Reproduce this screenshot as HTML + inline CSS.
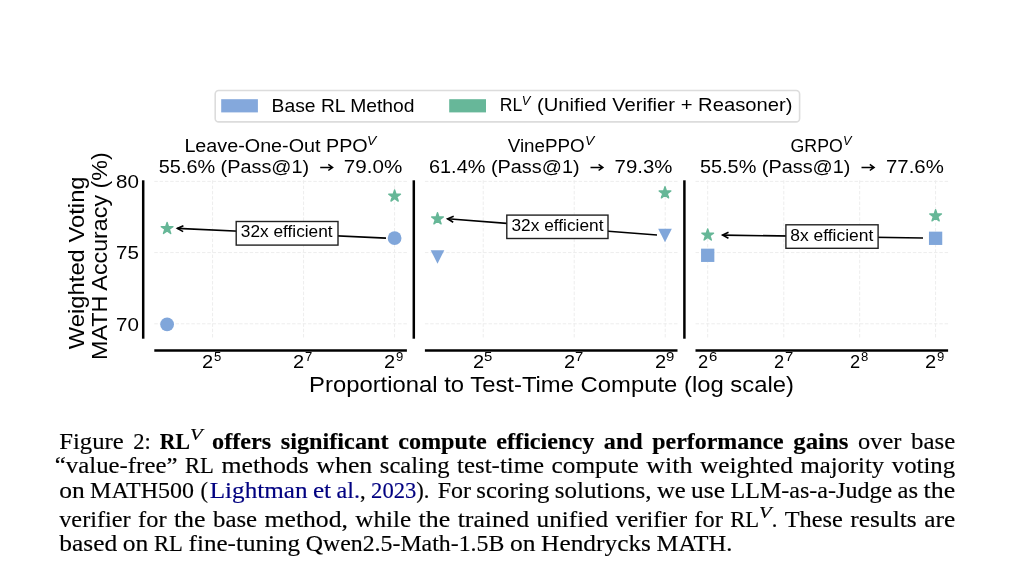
<!DOCTYPE html>
<html><head><meta charset="utf-8"><style>
html,body{margin:0;padding:0;background:#fff;width:1024px;height:586px;overflow:hidden}
svg{position:absolute;left:0;top:0;display:block;will-change:transform}
</style></head><body>
<svg width="1024" height="586" viewBox="0 0 1024 586">
<rect width="1024" height="586" fill="#fff"/>
<rect x="215.2" y="90.5" width="584.4" height="31.4" rx="3.5" ry="3.5" fill="#fff" stroke="#dcdcdc" stroke-width="1.6"/>
<rect x="221.2" y="99.2" width="36.7" height="13.2" fill="#84a8dc"/>
<rect x="449.2" y="99.2" width="36.8" height="13.2" fill="#67b799"/>
<text x="271.60" y="111.6" font-size="18.1" textLength="142.90" lengthAdjust="spacingAndGlyphs"  style="font-family:'Liberation Sans', sans-serif">Base RL Method</text>
<text x="499.80" y="111.4" font-size="18.1" textLength="22.50" lengthAdjust="spacingAndGlyphs"  style="font-family:'Liberation Sans', sans-serif">RL</text>
<text x="521.70" y="104.6" font-size="12.6" textLength="8.60" lengthAdjust="spacingAndGlyphs" font-style="italic" style="font-family:'Liberation Sans', sans-serif">V</text>
<text x="537.00" y="111.4" font-size="18.1" textLength="255.40" lengthAdjust="spacingAndGlyphs"  style="font-family:'Liberation Sans', sans-serif">(Unified Verifier + Reasoner)</text>
<line x1="154.3" y1="181.40" x2="406.9" y2="181.40" stroke="#ededed" stroke-width="1" stroke-dasharray="3.5 1.8"/>
<line x1="154.3" y1="252.60" x2="406.9" y2="252.60" stroke="#ededed" stroke-width="1" stroke-dasharray="3.5 1.8"/>
<line x1="154.3" y1="323.80" x2="406.9" y2="323.80" stroke="#ededed" stroke-width="1" stroke-dasharray="3.5 1.8"/>
<line x1="143.20000000000002" y1="180.3" x2="143.20000000000002" y2="338.7" stroke="#000" stroke-width="2.5"/>
<line x1="154.3" y1="350.5" x2="406.9" y2="350.5" stroke="#000" stroke-width="2.5"/>
<line x1="424.9" y1="181.40" x2="677.5" y2="181.40" stroke="#ededed" stroke-width="1" stroke-dasharray="3.5 1.8"/>
<line x1="424.9" y1="252.60" x2="677.5" y2="252.60" stroke="#ededed" stroke-width="1" stroke-dasharray="3.5 1.8"/>
<line x1="424.9" y1="323.80" x2="677.5" y2="323.80" stroke="#ededed" stroke-width="1" stroke-dasharray="3.5 1.8"/>
<line x1="413.79999999999995" y1="180.3" x2="413.79999999999995" y2="338.7" stroke="#000" stroke-width="2.5"/>
<line x1="424.9" y1="350.5" x2="677.5" y2="350.5" stroke="#000" stroke-width="2.5"/>
<line x1="695.5" y1="181.40" x2="948.1" y2="181.40" stroke="#ededed" stroke-width="1" stroke-dasharray="3.5 1.8"/>
<line x1="695.5" y1="252.60" x2="948.1" y2="252.60" stroke="#ededed" stroke-width="1" stroke-dasharray="3.5 1.8"/>
<line x1="695.5" y1="323.80" x2="948.1" y2="323.80" stroke="#ededed" stroke-width="1" stroke-dasharray="3.5 1.8"/>
<line x1="684.4" y1="180.3" x2="684.4" y2="338.7" stroke="#000" stroke-width="2.5"/>
<line x1="695.5" y1="350.5" x2="948.1" y2="350.5" stroke="#000" stroke-width="2.5"/>
<line x1="212.6" y1="180.3" x2="212.6" y2="338.7" stroke="#ededed" stroke-width="1" stroke-dasharray="3.5 1.8"/>
<line x1="303.6" y1="180.3" x2="303.6" y2="338.7" stroke="#ededed" stroke-width="1" stroke-dasharray="3.5 1.8"/>
<line x1="394.6" y1="180.3" x2="394.6" y2="338.7" stroke="#ededed" stroke-width="1" stroke-dasharray="3.5 1.8"/>
<line x1="483.2" y1="180.3" x2="483.2" y2="338.7" stroke="#ededed" stroke-width="1" stroke-dasharray="3.5 1.8"/>
<line x1="574.2" y1="180.3" x2="574.2" y2="338.7" stroke="#ededed" stroke-width="1" stroke-dasharray="3.5 1.8"/>
<line x1="665.2" y1="180.3" x2="665.2" y2="338.7" stroke="#ededed" stroke-width="1" stroke-dasharray="3.5 1.8"/>
<line x1="707.7" y1="180.3" x2="707.7" y2="338.7" stroke="#ededed" stroke-width="1" stroke-dasharray="3.5 1.8"/>
<line x1="783.8" y1="180.3" x2="783.8" y2="338.7" stroke="#ededed" stroke-width="1" stroke-dasharray="3.5 1.8"/>
<line x1="859.7" y1="180.3" x2="859.7" y2="338.7" stroke="#ededed" stroke-width="1" stroke-dasharray="3.5 1.8"/>
<line x1="935.6" y1="180.3" x2="935.6" y2="338.7" stroke="#ededed" stroke-width="1" stroke-dasharray="3.5 1.8"/>
<text x="184.40" y="151.8" font-size="19.1" textLength="183.30" lengthAdjust="spacingAndGlyphs"  style="font-family:'Liberation Sans', sans-serif">Leave-One-Out PPO</text>
<text x="366.90" y="144.7" font-size="13.3" textLength="9.30" lengthAdjust="spacingAndGlyphs" font-style="italic" style="font-family:'Liberation Sans', sans-serif">V</text>
<text x="507.70" y="151.8" font-size="19.1" textLength="77.00" lengthAdjust="spacingAndGlyphs"  style="font-family:'Liberation Sans', sans-serif">VinePPO</text>
<text x="584.90" y="144.7" font-size="13.3" textLength="9.30" lengthAdjust="spacingAndGlyphs" font-style="italic" style="font-family:'Liberation Sans', sans-serif">V</text>
<text x="790.50" y="151.8" font-size="19.1" textLength="52.30" lengthAdjust="spacingAndGlyphs"  style="font-family:'Liberation Sans', sans-serif">GRPO</text>
<text x="842.90" y="144.7" font-size="13.3" textLength="8.50" lengthAdjust="spacingAndGlyphs" font-style="italic" style="font-family:'Liberation Sans', sans-serif">V</text>
<text x="158.80" y="173.1" font-size="19.1" textLength="150.40" lengthAdjust="spacingAndGlyphs"  style="font-family:'Liberation Sans', sans-serif">55.6% (Pass@1)</text>
<text x="343.80" y="173.1" font-size="19.1" textLength="58.40" lengthAdjust="spacingAndGlyphs"  style="font-family:'Liberation Sans', sans-serif">79.0%</text>
<text x="429.00" y="173.1" font-size="19.1" textLength="150.60" lengthAdjust="spacingAndGlyphs"  style="font-family:'Liberation Sans', sans-serif">61.4% (Pass@1)</text>
<text x="614.60" y="173.1" font-size="19.1" textLength="57.80" lengthAdjust="spacingAndGlyphs"  style="font-family:'Liberation Sans', sans-serif">79.3%</text>
<text x="700.00" y="173.1" font-size="19.1" textLength="150.40" lengthAdjust="spacingAndGlyphs"  style="font-family:'Liberation Sans', sans-serif">55.5% (Pass@1)</text>
<text x="886.00" y="173.1" font-size="19.1" textLength="57.80" lengthAdjust="spacingAndGlyphs"  style="font-family:'Liberation Sans', sans-serif">77.6%</text>
<path d="M320.20,167.4 H332.60 M328.30,164.30 L332.60,167.4 L328.30,170.50" fill="none" stroke="#000" stroke-width="1.5" stroke-linecap="butt" stroke-linejoin="miter"/>
<path d="M590.50,167.4 H602.90 M598.60,164.30 L602.90,167.4 L598.60,170.50" fill="none" stroke="#000" stroke-width="1.5" stroke-linecap="butt" stroke-linejoin="miter"/>
<path d="M861.50,167.4 H874.10 M869.80,164.30 L874.10,167.4 L869.80,170.50" fill="none" stroke="#000" stroke-width="1.5" stroke-linecap="butt" stroke-linejoin="miter"/>
<text x="201.90" y="367.6" font-size="18.3" textLength="11.15" lengthAdjust="spacingAndGlyphs"  style="font-family:'Liberation Sans', sans-serif">2</text>
<text x="213.90" y="361.0" font-size="11.9" textLength="7.30" lengthAdjust="spacingAndGlyphs"  style="font-family:'Liberation Sans', sans-serif">5</text>
<text x="292.90" y="367.6" font-size="18.3" textLength="11.15" lengthAdjust="spacingAndGlyphs"  style="font-family:'Liberation Sans', sans-serif">2</text>
<text x="304.90" y="361.0" font-size="11.9" textLength="7.30" lengthAdjust="spacingAndGlyphs"  style="font-family:'Liberation Sans', sans-serif">7</text>
<text x="383.90" y="367.6" font-size="18.3" textLength="11.15" lengthAdjust="spacingAndGlyphs"  style="font-family:'Liberation Sans', sans-serif">2</text>
<text x="395.90" y="361.0" font-size="11.9" textLength="7.30" lengthAdjust="spacingAndGlyphs"  style="font-family:'Liberation Sans', sans-serif">9</text>
<text x="472.90" y="367.6" font-size="18.3" textLength="11.15" lengthAdjust="spacingAndGlyphs"  style="font-family:'Liberation Sans', sans-serif">2</text>
<text x="483.90" y="361.0" font-size="11.9" textLength="8.30" lengthAdjust="spacingAndGlyphs"  style="font-family:'Liberation Sans', sans-serif">5</text>
<text x="563.90" y="367.6" font-size="18.3" textLength="11.15" lengthAdjust="spacingAndGlyphs"  style="font-family:'Liberation Sans', sans-serif">2</text>
<text x="574.90" y="361.0" font-size="11.9" textLength="8.30" lengthAdjust="spacingAndGlyphs"  style="font-family:'Liberation Sans', sans-serif">7</text>
<text x="654.90" y="367.6" font-size="18.3" textLength="11.15" lengthAdjust="spacingAndGlyphs"  style="font-family:'Liberation Sans', sans-serif">2</text>
<text x="665.90" y="361.0" font-size="11.9" textLength="8.30" lengthAdjust="spacingAndGlyphs"  style="font-family:'Liberation Sans', sans-serif">9</text>
<text x="697.90" y="367.6" font-size="18.3" textLength="10.15" lengthAdjust="spacingAndGlyphs"  style="font-family:'Liberation Sans', sans-serif">2</text>
<text x="708.90" y="361.0" font-size="11.9" textLength="8.30" lengthAdjust="spacingAndGlyphs"  style="font-family:'Liberation Sans', sans-serif">6</text>
<text x="773.90" y="367.6" font-size="18.3" textLength="10.15" lengthAdjust="spacingAndGlyphs"  style="font-family:'Liberation Sans', sans-serif">2</text>
<text x="784.90" y="361.0" font-size="11.9" textLength="8.30" lengthAdjust="spacingAndGlyphs"  style="font-family:'Liberation Sans', sans-serif">7</text>
<text x="849.90" y="367.6" font-size="18.3" textLength="10.15" lengthAdjust="spacingAndGlyphs"  style="font-family:'Liberation Sans', sans-serif">2</text>
<text x="860.90" y="361.0" font-size="11.9" textLength="7.30" lengthAdjust="spacingAndGlyphs"  style="font-family:'Liberation Sans', sans-serif">8</text>
<text x="924.90" y="367.6" font-size="18.3" textLength="11.15" lengthAdjust="spacingAndGlyphs"  style="font-family:'Liberation Sans', sans-serif">2</text>
<text x="936.90" y="361.0" font-size="11.9" textLength="7.30" lengthAdjust="spacingAndGlyphs"  style="font-family:'Liberation Sans', sans-serif">9</text>
<text x="116.00" y="188.1" font-size="19" textLength="22.90" lengthAdjust="spacingAndGlyphs"  style="font-family:'Liberation Sans', sans-serif">80</text>
<text x="116.00" y="259.3" font-size="19" textLength="22.90" lengthAdjust="spacingAndGlyphs"  style="font-family:'Liberation Sans', sans-serif">75</text>
<text x="116.00" y="330.5" font-size="19" textLength="22.90" lengthAdjust="spacingAndGlyphs"  style="font-family:'Liberation Sans', sans-serif">70</text>
<text transform="translate(83.5,349.20) rotate(-90)" x="0" y="0" font-size="22.5" textLength="172.80" lengthAdjust="spacingAndGlyphs" style="font-family:'Liberation Sans', sans-serif">Weighted Voting</text>
<text transform="translate(106.9,360.00) rotate(-90)" x="0" y="0" font-size="22.5" textLength="207.70" lengthAdjust="spacingAndGlyphs" style="font-family:'Liberation Sans', sans-serif">MATH Accuracy (%)</text>
<text x="309.05" y="392.3" font-size="22.5" textLength="484.85" lengthAdjust="spacingAndGlyphs"  style="font-family:'Liberation Sans', sans-serif">Proportional to Test-Time Compute (log scale)</text>
<line x1="386" y1="238.1" x2="177.4" y2="228.4" stroke="#000" stroke-width="1.6"/>
<polyline points="183.14,231.67 177.4,228.4 183.41,225.68" fill="none" stroke="#000" stroke-width="1.6" stroke-linejoin="miter"/>
<rect x="236.2" y="221.5" width="101.80" height="23.60" fill="#fff" stroke="#222" stroke-width="1.4"/>
<text x="240.80" y="237.2" font-size="16.7" textLength="91.80" lengthAdjust="spacingAndGlyphs"  style="font-family:'Liberation Sans', sans-serif">32x efficient</text>
<line x1="657" y1="235.0" x2="447.6" y2="218.8" stroke="#000" stroke-width="1.6"/>
<polyline points="453.23,222.24 447.6,218.8 453.69,216.27" fill="none" stroke="#000" stroke-width="1.6" stroke-linejoin="miter"/>
<rect x="506.8" y="215.1" width="101.20" height="23.40" fill="#fff" stroke="#222" stroke-width="1.4"/>
<text x="511.50" y="230.8" font-size="16.7" textLength="92.00" lengthAdjust="spacingAndGlyphs"  style="font-family:'Liberation Sans', sans-serif">32x efficient</text>
<line x1="923" y1="238.0" x2="722.6" y2="235.1" stroke="#000" stroke-width="1.6"/>
<polyline points="728.44,238.18 722.6,235.1 728.52,232.19" fill="none" stroke="#000" stroke-width="1.6" stroke-linejoin="miter"/>
<rect x="785.9" y="224.8" width="92.20" height="23.50" fill="#fff" stroke="#222" stroke-width="1.4"/>
<text x="790.30" y="240.8" font-size="16.7" textLength="83.00" lengthAdjust="spacingAndGlyphs"  style="font-family:'Liberation Sans', sans-serif">8x efficient</text>
<polygon points="167.10,222.35 165.72,226.60 161.25,226.60 164.87,229.23 163.49,233.48 167.10,230.85 170.71,233.48 169.33,229.23 172.95,226.60 168.48,226.60" fill="#66b797" stroke="#66b797" stroke-width="1.4" stroke-linejoin="round"/>
<circle cx="167.1" cy="324.4" r="6.9" fill="#80a6da"/>
<polygon points="394.60,189.95 393.22,194.20 388.75,194.20 392.37,196.83 390.99,201.08 394.60,198.45 398.21,201.08 396.83,196.83 400.45,194.20 395.98,194.20" fill="#66b797" stroke="#66b797" stroke-width="1.4" stroke-linejoin="round"/>
<circle cx="394.6" cy="238.1" r="6.9" fill="#80a6da"/>
<polygon points="437.50,212.75 436.12,217.00 431.65,217.00 435.27,219.63 433.89,223.88 437.50,221.25 441.11,223.88 439.73,219.63 443.35,217.00 438.88,217.00" fill="#66b797" stroke="#66b797" stroke-width="1.4" stroke-linejoin="round"/>
<polygon points="430.70,250.20 444.30,250.20 437.50,263.80" fill="#80a6da"/>
<polygon points="665.00,186.75 663.62,191.00 659.15,191.00 662.77,193.63 661.39,197.88 665.00,195.25 668.61,197.88 667.23,193.63 670.85,191.00 666.38,191.00" fill="#66b797" stroke="#66b797" stroke-width="1.4" stroke-linejoin="round"/>
<polygon points="658.20,228.70 671.80,228.70 665.00,242.30" fill="#80a6da"/>
<polygon points="707.70,228.85 706.32,233.10 701.85,233.10 705.47,235.73 704.09,239.98 707.70,237.35 711.31,239.98 709.93,235.73 713.55,233.10 709.08,233.10" fill="#66b797" stroke="#66b797" stroke-width="1.4" stroke-linejoin="round"/>
<rect x="701.05" y="248.65" width="13.3" height="13.3" fill="#80a6da"/>
<polygon points="935.60,209.75 934.22,214.00 929.75,214.00 933.37,216.63 931.99,220.88 935.60,218.25 939.21,220.88 937.83,216.63 941.45,214.00 936.98,214.00" fill="#66b797" stroke="#66b797" stroke-width="1.4" stroke-linejoin="round"/>
<rect x="928.95" y="231.65" width="13.3" height="13.3" fill="#80a6da"/>
<text x="59.20" y="448.7" font-size="22.6" textLength="64.55" lengthAdjust="spacingAndGlyphs" fill="#000" stroke="#000" stroke-width="0.15" style="font-family:'Liberation Serif', serif">Figure</text>
<text x="133.31" y="448.7" font-size="22.6" fill="#000" stroke="#000" stroke-width="0.15" style="font-family:'Liberation Serif', serif">2:</text>
<text x="159.82" y="448.7" font-size="22.6" textLength="30.13" lengthAdjust="spacingAndGlyphs" fill="#000" stroke="#000" stroke-width="0.15" font-weight="bold" style="font-family:'Liberation Serif', serif">RL</text>
<text x="189.95" y="439.9" font-size="17.5" textLength="12.57" lengthAdjust="spacingAndGlyphs" fill="#000" stroke="#000" stroke-width="0.15" font-style="italic" style="font-family:'Liberation Serif', serif">V</text>
<text x="212.07" y="448.7" font-size="22.6" textLength="59.06" lengthAdjust="spacingAndGlyphs" fill="#000" stroke="#000" stroke-width="0.15" font-weight="bold" style="font-family:'Liberation Serif', serif">offers</text>
<text x="280.69" y="448.7" font-size="22.6" textLength="107.94" lengthAdjust="spacingAndGlyphs" fill="#000" stroke="#000" stroke-width="0.15" font-weight="bold" style="font-family:'Liberation Serif', serif">significant</text>
<text x="398.19" y="448.7" font-size="22.6" textLength="88.57" lengthAdjust="spacingAndGlyphs" fill="#000" stroke="#000" stroke-width="0.15" font-weight="bold" style="font-family:'Liberation Serif', serif">compute</text>
<text x="496.32" y="448.7" font-size="22.6" textLength="97.95" lengthAdjust="spacingAndGlyphs" fill="#000" stroke="#000" stroke-width="0.15" font-weight="bold" style="font-family:'Liberation Serif', serif">efficiency</text>
<text x="603.83" y="448.7" font-size="22.6" textLength="38.92" lengthAdjust="spacingAndGlyphs" fill="#000" stroke="#000" stroke-width="0.15" font-weight="bold" style="font-family:'Liberation Serif', serif">and</text>
<text x="652.31" y="448.7" font-size="22.6" textLength="131.38" lengthAdjust="spacingAndGlyphs" fill="#000" stroke="#000" stroke-width="0.15" font-weight="bold" style="font-family:'Liberation Serif', serif">performance</text>
<text x="793.24" y="448.7" font-size="22.6" textLength="55.24" lengthAdjust="spacingAndGlyphs" fill="#000" stroke="#000" stroke-width="0.15" font-weight="bold" style="font-family:'Liberation Serif', serif">gains</text>
<text x="858.04" y="448.7" font-size="22.6" textLength="43.39" lengthAdjust="spacingAndGlyphs" fill="#000" stroke="#000" stroke-width="0.15" style="font-family:'Liberation Serif', serif">over</text>
<text x="910.99" y="448.7" font-size="22.6" textLength="44.21" lengthAdjust="spacingAndGlyphs" fill="#000" stroke="#000" stroke-width="0.15" style="font-family:'Liberation Serif', serif">base</text>
<text x="54.80" y="473.2" font-size="22.6" textLength="122.65" lengthAdjust="spacingAndGlyphs" fill="#000" stroke="#000" stroke-width="0.15" style="font-family:'Liberation Serif', serif">“value-free”</text>
<text x="184.99" y="473.2" font-size="22.6" textLength="28.91" lengthAdjust="spacingAndGlyphs" fill="#000" stroke="#000" stroke-width="0.15" style="font-family:'Liberation Serif', serif">RL</text>
<text x="221.43" y="473.2" font-size="22.6" textLength="87.37" lengthAdjust="spacingAndGlyphs" fill="#000" stroke="#000" stroke-width="0.15" style="font-family:'Liberation Serif', serif">methods</text>
<text x="316.34" y="473.2" font-size="22.6" textLength="55.98" lengthAdjust="spacingAndGlyphs" fill="#000" stroke="#000" stroke-width="0.15" style="font-family:'Liberation Serif', serif">when</text>
<text x="379.86" y="473.2" font-size="22.6" textLength="69.70" lengthAdjust="spacingAndGlyphs" fill="#000" stroke="#000" stroke-width="0.15" style="font-family:'Liberation Serif', serif">scaling</text>
<text x="457.10" y="473.2" font-size="22.6" textLength="86.97" lengthAdjust="spacingAndGlyphs" fill="#000" stroke="#000" stroke-width="0.15" style="font-family:'Liberation Serif', serif">test-time</text>
<text x="551.60" y="473.2" font-size="22.6" textLength="87.06" lengthAdjust="spacingAndGlyphs" fill="#000" stroke="#000" stroke-width="0.15" style="font-family:'Liberation Serif', serif">compute</text>
<text x="646.20" y="473.2" font-size="22.6" textLength="46.20" lengthAdjust="spacingAndGlyphs" fill="#000" stroke="#000" stroke-width="0.15" style="font-family:'Liberation Serif', serif">with</text>
<text x="699.93" y="473.2" font-size="22.6" textLength="92.98" lengthAdjust="spacingAndGlyphs" fill="#000" stroke="#000" stroke-width="0.15" style="font-family:'Liberation Serif', serif">weighted</text>
<text x="800.44" y="473.2" font-size="22.6" textLength="83.78" lengthAdjust="spacingAndGlyphs" fill="#000" stroke="#000" stroke-width="0.15" style="font-family:'Liberation Serif', serif">majority</text>
<text x="891.76" y="473.2" font-size="22.6" textLength="63.44" lengthAdjust="spacingAndGlyphs" fill="#000" stroke="#000" stroke-width="0.15" style="font-family:'Liberation Serif', serif">voting</text>
<text x="59.20" y="498.2" font-size="22.6" textLength="25.50" lengthAdjust="spacingAndGlyphs" fill="#000" stroke="#000" stroke-width="0.15" style="font-family:'Liberation Serif', serif">on</text>
<text x="90.09" y="498.2" font-size="22.6" textLength="103.94" lengthAdjust="spacingAndGlyphs" fill="#000" stroke="#000" stroke-width="0.15" style="font-family:'Liberation Serif', serif">MATH500</text>
<text x="200.43" y="498.2" font-size="22.6" fill="#000" stroke="#000" stroke-width="0.15" style="font-family:'Liberation Serif', serif">(</text>
<text x="209.74" y="498.2" font-size="22.6" textLength="97.79" lengthAdjust="spacingAndGlyphs" fill="#000080" stroke="#000080" stroke-width="0.15" style="font-family:'Liberation Serif', serif">Lightman</text>
<text x="312.93" y="498.2" font-size="22.6" textLength="18.19" lengthAdjust="spacingAndGlyphs" fill="#000080" stroke="#000080" stroke-width="0.15" style="font-family:'Liberation Serif', serif">et</text>
<text x="336.52" y="498.2" font-size="22.6" textLength="23.53" lengthAdjust="spacingAndGlyphs" fill="#000080" stroke="#000080" stroke-width="0.15" style="font-family:'Liberation Serif', serif">al.</text>
<text x="360.05" y="498.2" font-size="22.6" fill="#000" stroke="#000" stroke-width="0.15" style="font-family:'Liberation Serif', serif">,</text>
<text x="371.09" y="498.2" font-size="22.6" textLength="45.20" lengthAdjust="spacingAndGlyphs" fill="#000080" stroke="#000080" stroke-width="0.15" style="font-family:'Liberation Serif', serif">2023</text>
<text x="416.29" y="498.2" font-size="22.6" fill="#000" stroke="#000" stroke-width="0.15" style="font-family:'Liberation Serif', serif">).</text>
<text x="437.65" y="498.2" font-size="22.6" textLength="33.27" lengthAdjust="spacingAndGlyphs" fill="#000" stroke="#000" stroke-width="0.15" style="font-family:'Liberation Serif', serif">For</text>
<text x="476.31" y="498.2" font-size="22.6" textLength="73.09" lengthAdjust="spacingAndGlyphs" fill="#000" stroke="#000" stroke-width="0.15" style="font-family:'Liberation Serif', serif">scoring</text>
<text x="554.80" y="498.2" font-size="22.6" textLength="96.71" lengthAdjust="spacingAndGlyphs" fill="#000" stroke="#000" stroke-width="0.15" style="font-family:'Liberation Serif', serif">solutions,</text>
<text x="656.91" y="498.2" font-size="22.6" textLength="28.77" lengthAdjust="spacingAndGlyphs" fill="#000" stroke="#000" stroke-width="0.15" style="font-family:'Liberation Serif', serif">we</text>
<text x="691.08" y="498.2" font-size="22.6" textLength="34.04" lengthAdjust="spacingAndGlyphs" fill="#000" stroke="#000" stroke-width="0.15" style="font-family:'Liberation Serif', serif">use</text>
<text x="730.51" y="498.2" font-size="22.6" textLength="161.66" lengthAdjust="spacingAndGlyphs" fill="#000" stroke="#000" stroke-width="0.15" style="font-family:'Liberation Serif', serif">LLM-as-a-Judge</text>
<text x="897.57" y="498.2" font-size="22.6" textLength="20.54" lengthAdjust="spacingAndGlyphs" fill="#000" stroke="#000" stroke-width="0.15" style="font-family:'Liberation Serif', serif">as</text>
<text x="923.51" y="498.2" font-size="22.6" textLength="31.69" lengthAdjust="spacingAndGlyphs" fill="#000" stroke="#000" stroke-width="0.15" style="font-family:'Liberation Serif', serif">the</text>
<text x="59.20" y="526.9" font-size="22.6" textLength="71.53" lengthAdjust="spacingAndGlyphs" fill="#000" stroke="#000" stroke-width="0.15" style="font-family:'Liberation Serif', serif">verifier</text>
<text x="138.09" y="526.9" font-size="22.6" textLength="28.45" lengthAdjust="spacingAndGlyphs" fill="#000" stroke="#000" stroke-width="0.15" style="font-family:'Liberation Serif', serif">for</text>
<text x="173.91" y="526.9" font-size="22.6" textLength="31.69" lengthAdjust="spacingAndGlyphs" fill="#000" stroke="#000" stroke-width="0.15" style="font-family:'Liberation Serif', serif">the</text>
<text x="212.96" y="526.9" font-size="22.6" textLength="44.21" lengthAdjust="spacingAndGlyphs" fill="#000" stroke="#000" stroke-width="0.15" style="font-family:'Liberation Serif', serif">base</text>
<text x="264.54" y="526.9" font-size="22.6" textLength="83.44" lengthAdjust="spacingAndGlyphs" fill="#000" stroke="#000" stroke-width="0.15" style="font-family:'Liberation Serif', serif">method,</text>
<text x="355.34" y="526.9" font-size="22.6" textLength="55.89" lengthAdjust="spacingAndGlyphs" fill="#000" stroke="#000" stroke-width="0.15" style="font-family:'Liberation Serif', serif">while</text>
<text x="418.60" y="526.9" font-size="22.6" textLength="31.69" lengthAdjust="spacingAndGlyphs" fill="#000" stroke="#000" stroke-width="0.15" style="font-family:'Liberation Serif', serif">the</text>
<text x="457.65" y="526.9" font-size="22.6" textLength="71.53" lengthAdjust="spacingAndGlyphs" fill="#000" stroke="#000" stroke-width="0.15" style="font-family:'Liberation Serif', serif">trained</text>
<text x="536.54" y="526.9" font-size="22.6" textLength="71.57" lengthAdjust="spacingAndGlyphs" fill="#000" stroke="#000" stroke-width="0.15" style="font-family:'Liberation Serif', serif">unified</text>
<text x="615.48" y="526.9" font-size="22.6" textLength="71.53" lengthAdjust="spacingAndGlyphs" fill="#000" stroke="#000" stroke-width="0.15" style="font-family:'Liberation Serif', serif">verifier</text>
<text x="694.38" y="526.9" font-size="22.6" textLength="28.45" lengthAdjust="spacingAndGlyphs" fill="#000" stroke="#000" stroke-width="0.15" style="font-family:'Liberation Serif', serif">for</text>
<text x="730.20" y="526.9" font-size="22.6" textLength="28.91" lengthAdjust="spacingAndGlyphs" fill="#000" stroke="#000" stroke-width="0.15" style="font-family:'Liberation Serif', serif">RL</text>
<text x="759.10" y="518.1" font-size="17.5" textLength="12.57" lengthAdjust="spacingAndGlyphs" fill="#000" stroke="#000" stroke-width="0.15" font-style="italic" style="font-family:'Liberation Serif', serif">V</text>
<text x="771.67" y="526.9" font-size="22.6" fill="#000" stroke="#000" stroke-width="0.15" style="font-family:'Liberation Serif', serif">.</text>
<text x="784.69" y="526.9" font-size="22.6" textLength="58.24" lengthAdjust="spacingAndGlyphs" fill="#000" stroke="#000" stroke-width="0.15" style="font-family:'Liberation Serif', serif">These</text>
<text x="850.29" y="526.9" font-size="22.6" textLength="66.49" lengthAdjust="spacingAndGlyphs" fill="#000" stroke="#000" stroke-width="0.15" style="font-family:'Liberation Serif', serif">results</text>
<text x="924.15" y="526.9" font-size="22.6" textLength="31.05" lengthAdjust="spacingAndGlyphs" fill="#000" stroke="#000" stroke-width="0.15" style="font-family:'Liberation Serif', serif">are</text>
<text x="59.20" y="551.2" font-size="22.6" textLength="58.01" lengthAdjust="spacingAndGlyphs" fill="#000" stroke="#000" stroke-width="0.15" style="font-family:'Liberation Serif', serif">based</text>
<text x="122.86" y="551.2" font-size="22.6" textLength="25.50" lengthAdjust="spacingAndGlyphs" fill="#000" stroke="#000" stroke-width="0.15" style="font-family:'Liberation Serif', serif">on</text>
<text x="154.01" y="551.2" font-size="22.6" textLength="28.91" lengthAdjust="spacingAndGlyphs" fill="#000" stroke="#000" stroke-width="0.15" style="font-family:'Liberation Serif', serif">RL</text>
<text x="188.57" y="551.2" font-size="22.6" textLength="111.53" lengthAdjust="spacingAndGlyphs" fill="#000" stroke="#000" stroke-width="0.15" style="font-family:'Liberation Serif', serif">fine-tuning</text>
<text x="305.75" y="551.2" font-size="22.6" textLength="198.59" lengthAdjust="spacingAndGlyphs" fill="#000" stroke="#000" stroke-width="0.15" style="font-family:'Liberation Serif', serif">Qwen2.5-Math-1.5B</text>
<text x="509.99" y="551.2" font-size="22.6" textLength="25.50" lengthAdjust="spacingAndGlyphs" fill="#000" stroke="#000" stroke-width="0.15" style="font-family:'Liberation Serif', serif">on</text>
<text x="541.13" y="551.2" font-size="22.6" textLength="109.81" lengthAdjust="spacingAndGlyphs" fill="#000" stroke="#000" stroke-width="0.15" style="font-family:'Liberation Serif', serif">Hendrycks</text>
<text x="656.60" y="551.2" font-size="22.6" textLength="75.69" lengthAdjust="spacingAndGlyphs" fill="#000" stroke="#000" stroke-width="0.15" style="font-family:'Liberation Serif', serif">MATH.</text>
</svg>
</body></html>
